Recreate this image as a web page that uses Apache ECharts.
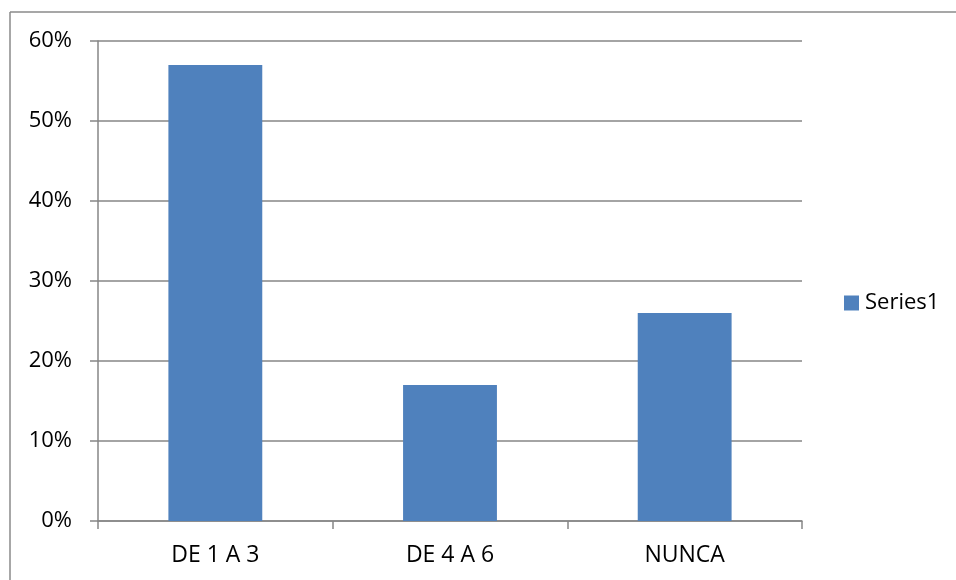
<!DOCTYPE html>
<html><head><meta charset="utf-8">
<script src="https://cdn.jsdelivr.net/npm/echarts@6/dist/echarts.min.js"></script>
<style>html,body{margin:0;padding:0;background:#fff}#c{width:956px;height:580px}</style>
</head><body><div id="c"></div>
<script>
const categories = ['DE 1 A 3', 'DE 4 A 6', 'NUNCA'];
const series1 = [57, 17, 26];
const yTicks = [0, 10, 20, 30, 40, 50, 60];

const chart = echarts.init(document.getElementById('c'), null, {renderer: 'canvas'});
const font = '"Open Sans", "Noto Sans", sans-serif';
chart.setOption({
  animation: false,
  backgroundColor: '#fff',
  graphic: [
    {type: 'line', shape: {x1: 10, y1: 12, x2: 10, y2: 580}, style: {stroke: '#8a8a8a', lineWidth: 1.5}},
    {type: 'line', shape: {x1: 10, y1: 12, x2: 956, y2: 12}, style: {stroke: '#8a8a8a', lineWidth: 1.5}}
  ],
  grid: {left: 98, right: 154, top: 41, bottom: 59, containLabel: false},
  legend: {
    orient: 'vertical', left: 844, top: 292, padding: 0,
    itemWidth: 15, itemHeight: 15, itemGap: 8,
    icon: 'rect',
    textStyle: {fontFamily: font, fontSize: 22, color: '#000', padding: [0, 0, 0, 1]},
    data: ['Series1']
  },
  xAxis: {
    type: 'category', data: categories,
    axisLine: {lineStyle: {color: '#868686', width: 1.5}},
    axisTick: {show: true, length: 8, alignWithLabel: false, lineStyle: {color: '#868686', width: 1.5}},
    axisLabel: {fontFamily: font, fontSize: 23, color: '#000', margin: 23}
  },
  yAxis: {
    type: 'value', min: yTicks[0], max: yTicks[yTicks.length - 1], interval: 10,
    axisLine: {show: true, lineStyle: {color: '#868686', width: 1.5}},
    axisTick: {show: true, length: 8, lineStyle: {color: '#868686', width: 1.5}},
    splitLine: {show: true, lineStyle: {color: '#868686', width: 1.5}},
    axisLabel: {fontFamily: font, fontSize: 22, color: '#000', margin: 26, formatter: v => v + '%'}
  },
  series: [{
    name: 'Series1', type: 'bar', data: series1, barWidth: '40%',
    itemStyle: {color: '#4F81BD'}
  }]
});
</script></body></html>
